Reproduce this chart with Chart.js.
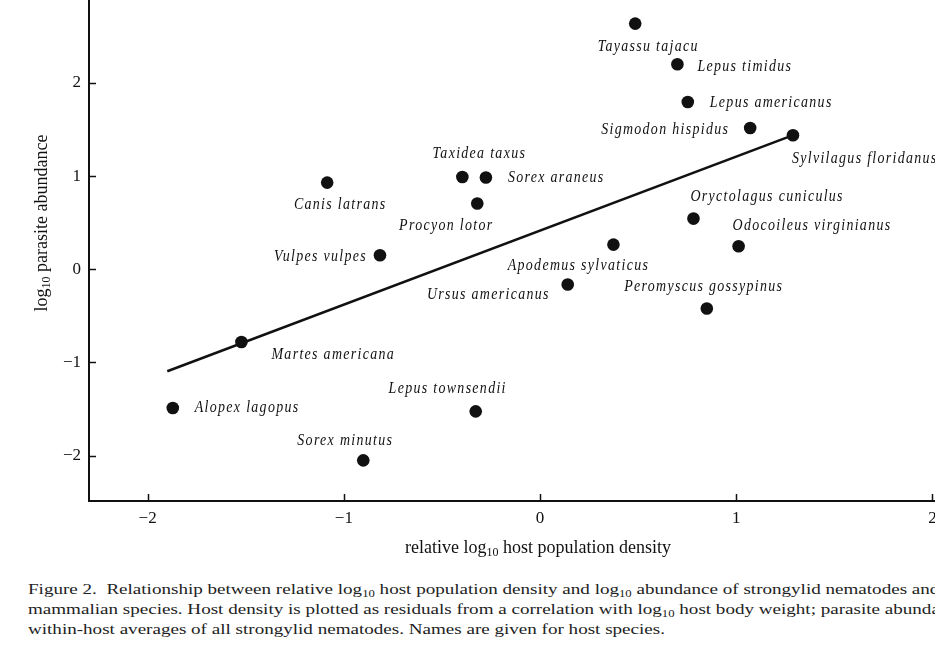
<!DOCTYPE html>
<html>
<head>
<meta charset="utf-8">
<script src="https://cdn.jsdelivr.net/npm/chart.js@4/dist/chart.umd.min.js"></script>
<style>
  html, body { margin: 0; padding: 0; background: #fff; overflow: hidden; }
  #wrap { position: relative; width: 935px; height: 652px; overflow: hidden; }
  #chart { position: absolute; left: 0; top: 0; }
  #caption {
    position: absolute; left: 28px; top: 579px;
    font-family: "Liberation Serif", "Times New Roman", serif; font-size: 15px; color: #222;
    line-height: 20px; white-space: nowrap; transform-origin: 0 0;
  }
  #caption sub { font-size: 10px; vertical-align: -3px; line-height: 0; }
</style>
</head>
<body>
<div id="wrap">
  <canvas id="chart" width="935" height="575"></canvas>
  <div id="caption">
    <div>Figure 2.&nbsp; Relationship between relative log<sub>10</sub> host population density and log<sub>10</sub> abundance of strongylid nematodes and other</div>
    <div>mammalian species. Host density is plotted as residuals from a correlation with log<sub>10</sub> host body weight; parasite abundances are</div>
    <div id="lastLine">within-host averages of all strongylid nematodes. Names are given for host species.</div>
  </div>
</div>
<script>
// host species and values
let species = [
  "Tayassu tajacu", "Lepus timidus", "Lepus americanus", "Sigmodon hispidus",
  "Sylvilagus floridanus", "Oryctolagus cuniculus", "Odocoileus virginianus",
  "Apodemus sylvaticus", "Peromyscus gossypinus", "Ursus americanus",
  "Taxidea taxus", "Sorex araneus", "Procyon lotor", "Canis latrans",
  "Vulpes vulpes", "Martes americana", "Alopex lagopus", "Lepus townsendii",
  "Sorex minutus",
];
let hostDensity = [
  0.485, 0.70, 0.753, 1.071, 1.289, 0.782, 1.012, 0.374, 0.85, 0.141,
  -0.396, -0.276, -0.32, -1.085, -0.816, -1.522, -1.872, -0.328, -0.901,
];
let parasiteAbundance = [
  2.636, 2.20, 1.795, 1.516, 1.438, 0.544, 0.247, 0.265, -0.42, -0.164,
  0.99, 0.984, 0.705, 0.93, 0.15, -0.78, -1.488, -1.524, -2.05,
];
// regression line end points
let fitX = [-1.90, 1.29];
let fitY = [-1.094, 1.44];

let xTicks = [-2, -1, 0, 1, 2];
let yTicks = [-2, -1, 0, 1, 2];

// where each name sits relative to its dot (px), and how it is aligned
let labelPlacement = [
  [13, 23, "center"], [20, 2, "left"], [22, 1, "left"], [-21, 2, "right"],
  [-1, 23, "left"], [-3, -22, "left"], [-6, -21, "left"], [-35, 21, "center"],
  [-3, -22, "center"], [-18, 10, "right"], [17, -23, "center"], [22, 0, "left"],
  [-31, 22, "center"], [13, 22, "center"], [-13, 1, "right"], [30, 13, "left"],
  [22, 0, "left"], [-28, -23, "center"], [-18, -20, "center"],
];

let points = hostDensity.map((x, i) => ({ x: x, y: parasiteAbundance[i] }));
let fitLine = fitX.map((x, i) => ({ x: x, y: fitY[i] }));

let ink = "#111";
let serif = '"Liberation Serif", "Times New Roman", serif';

function fmt(v) {
  return v < 0 ? "\u2212" + Math.abs(v) : String(v);
}

// draws text pieces, some of them as subscripts, centred on x
function drawParts(ctx, parts, x, y, size) {
  let total = 0;
  parts.forEach(p => {
    ctx.font = (p[1] ? Math.round(size * 0.65) : size) + "px " + serif;
    total += ctx.measureText(p[0]).width;
  });
  let cx = x - total / 2;
  parts.forEach(p => {
    ctx.font = (p[1] ? Math.round(size * 0.65) : size) + "px " + serif;
    ctx.fillText(p[0], cx, p[1] ? y + 5 : y);
    cx += ctx.measureText(p[0]).width;
  });
}

let decorations = {
  id: "decorations",
  afterDraw(chart) {
    let ctx = chart.ctx;
    let xs = chart.scales.x;
    let ys = chart.scales.y;
    let area = chart.chartArea;
    ctx.save();
    ctx.fillStyle = ink;
    ctx.strokeStyle = ink;
    ctx.lineWidth = 1.5;

    // inward tick marks
    xTicks.forEach(t => {
      let px = Math.round(xs.getPixelForValue(t)) + 0.5;
      ctx.beginPath();
      ctx.moveTo(px, area.bottom);
      ctx.lineTo(px, area.bottom - 7);
      ctx.stroke();
    });
    yTicks.forEach(t => {
      let py = Math.round(ys.getPixelForValue(t)) + 0.5;
      ctx.beginPath();
      ctx.moveTo(area.left, py);
      ctx.lineTo(area.left + 7, py);
      ctx.stroke();
    });

    // tick labels
    ctx.font = "17px " + serif;
    ctx.textBaseline = "middle";
    ctx.textAlign = "center";
    xTicks.forEach(t => {
      ctx.fillText(fmt(t), xs.getPixelForValue(t), area.bottom + 18);
    });
    ctx.textAlign = "right";
    yTicks.forEach(t => {
      ctx.fillText(fmt(t), area.left - 8, ys.getPixelForValue(t));
    });

    // axis titles
    ctx.textAlign = "left";
    drawParts(ctx, [["relative log", false], ["10", true], [" host population density", false]],
      xs.getPixelForValue(0) - 2, area.bottom + 47, 18);
    ctx.save();
    ctx.translate(42, 223);
    ctx.rotate(-Math.PI / 2);
    drawParts(ctx, [["log", false], ["10", true], [" parasite abundance", false]], 0, 0, 18);
    ctx.restore();

    // species names, tall narrow italic
    ctx.font = "italic 17px " + serif;
    ctx.letterSpacing = "1.6px";
    ctx.textBaseline = "middle";
    species.forEach((name, i) => {
      let pl = labelPlacement[i];
      ctx.save();
      ctx.translate(xs.getPixelForValue(hostDensity[i]) + pl[0],
        ys.getPixelForValue(parasiteAbundance[i]) + pl[1]);
      ctx.scale(0.82, 1);
      ctx.textAlign = pl[2];
      ctx.fillText(name, 0, 0);
      ctx.restore();
    });
    ctx.restore();
  },
};

let config = {
  type: "scatter",
  data: {
    datasets: [
      {
        type: "line",
        data: fitLine,
        borderColor: ink,
        borderWidth: 2.5,
        pointRadius: 0,
        fill: false,
      },
      {
        data: points,
        backgroundColor: ink,
        borderWidth: 0,
        pointRadius: 6.3,
      },
    ],
  },
  options: {
    responsive: false,
    animation: false,
    devicePixelRatio: 1,
    layout: { autoPadding: false, padding: { left: 89, top: 0, right: 0, bottom: 74 } },
    plugins: { legend: { display: false }, tooltip: { enabled: false } },
    scales: {
      x: {
        type: "linear",
        min: -2.299,
        max: 2.013,
        ticks: { display: false },
        grid: { display: false },
        border: { display: true, color: ink, width: 2 },
        afterFit: s => { s.height = 0; },
      },
      y: {
        type: "linear",
        min: -2.486,
        max: 2.889,
        ticks: { display: false },
        grid: { display: false },
        border: { display: true, color: ink, width: 2 },
        afterFit: s => { s.width = 0; },
      },
    },
  },
  plugins: [decorations],
};

let chart = new Chart(document.getElementById("chart"), config);

// squeeze the caption so the last line ends where it does in the figure
let cap = document.getElementById("caption");
let range = document.createRange();
range.selectNodeContents(document.getElementById("lastLine"));
let textW = range.getBoundingClientRect().width;
cap.style.transform = "scaleX(" + (637 / textW) + ")";
</script>
</body>
</html>
